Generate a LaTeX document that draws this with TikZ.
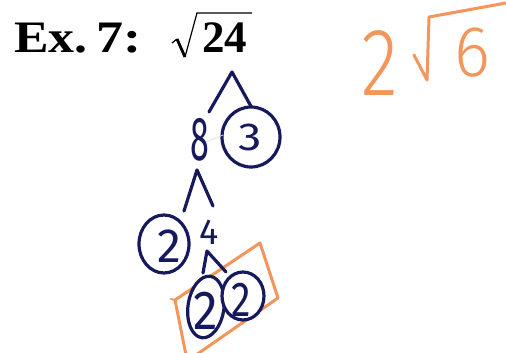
\documentclass[tikz,border=0pt]{standalone}
\usepackage{fontspec}
\setmainfont{Liberation Serif}
\newfontfamily\hand{Fira Sans}
\newfontfamily\handl{Fira Sans Light}
\definecolor{ink}{RGB}{22,26,92}
\definecolor{orng}{RGB}{242,150,92}
\tikzset{
  inkline/.style={draw=ink,line width=3.2pt,line cap=round,line join=round},
  orline/.style={draw=orng,line width=3pt,line cap=round,line join=round},
  ring/.style={inkline,fill=white},
  dig/.style={text=ink,inner sep=0pt,font=\hand\fontsize{#1}{#1}\selectfont},
  odig/.style={text=orng,inner sep=0pt,font=\handl\fontsize{#1}{#1}\selectfont},
  title/.style={inner sep=0pt,anchor=base west,font=\bfseries\fontsize{45}{45}\selectfont}
}
\begin{document}
\begin{tikzpicture}[x=1pt,y=-1pt]
\useasboundingbox[fill=white] (0,0) rectangle (506,353);
% title
\node[title,xscale=1.15] (ex) at (14,53) {Ex.};
\node[title,xscale=1.2] (seven) at (96,53) {7:};
\node[title] (tf) at (202,53) {24};
\coordinate (r0) at (172,43);
\coordinate (r1) at (177,39);
\coordinate (r2) at (185,57);
\coordinate (r3) at (197,13);
\coordinate (r4) at (252,13);
\draw[line width=1.2pt,line join=miter] (r0) -- (r1);
\draw[line width=2.8pt] (r1) -- (r2);
\draw[line width=1.2pt] (r2) -- (r3) -- (r4);
% orange answer
\node[odig=96,xscale=0.8] (a2) at (380,63) {2};
\coordinate (s0) at (414,55);
\coordinate (s1) at (427,80);
\coordinate (s2) at (429,17);
\coordinate (s3) at (506,3);
\draw[orline] (s0) -- (s1) -- (s2) -- (s3);
\node[odig=72,xscale=0.95] (a6) at (472,53) {6};
% orange box
\coordinate (b1) at (175,300);
\coordinate (b2) at (260,243);
\coordinate (b3) at (278,298);
\coordinate (b4) at (196,355);
\coordinate (b5) at (186,355);
\coordinate (b0) at (171,299);
\draw[orline] (b5) -- (b1) -- (b2) -- (b3) -- (b4);
\draw[orline,line width=2pt] (b0) -- (b1);
% tree
\coordinate (c1a) at (232,72);
\coordinate (c1l) at (209,112);
\coordinate (c1r) at (253,110);
\draw[inkline] (c1l) -- (c1a) -- (c1r);
\draw[ring] (251,137) ellipse [x radius=29,y radius=30];
\node[dig=39,xscale=1.2] (n3) at (250,137) {3};
\node[dig=62,xscale=0.55] (n8) at (200,140) {8};
\draw[gray!25,line width=0.8pt] (206,142) -- (223,135);
\coordinate (c2a) at (197,170);
\coordinate (c2l) at (184,211);
\coordinate (c2r) at (213,206);
\draw[inkline] (c2l) -- (c2a) -- (c2r);
\draw[ring] (164,244) ellipse [x radius=25,y radius=29];
\node[dig=48] (n2a) at (169,246) {2};
\node[dig=36] (n4) at (209,232) {4};
\coordinate (c3a) at (207,251);
\coordinate (c3l) at (203,273);
\coordinate (c3r) at (226,272);
\draw[inkline] (c3l) -- (c3a) -- (c3r);
\draw[ring,rotate around={-8:(206,307)}] (206,307) ellipse [x radius=18,y radius=31];
\node[dig=55,xscale=0.9] (n2b) at (206,311) {2};
\draw[ring] (243,296) ellipse [x radius=21,y radius=24];
\node[dig=49,xscale=0.8] (n2c) at (241,300) {2};
\end{tikzpicture}
\end{document}
